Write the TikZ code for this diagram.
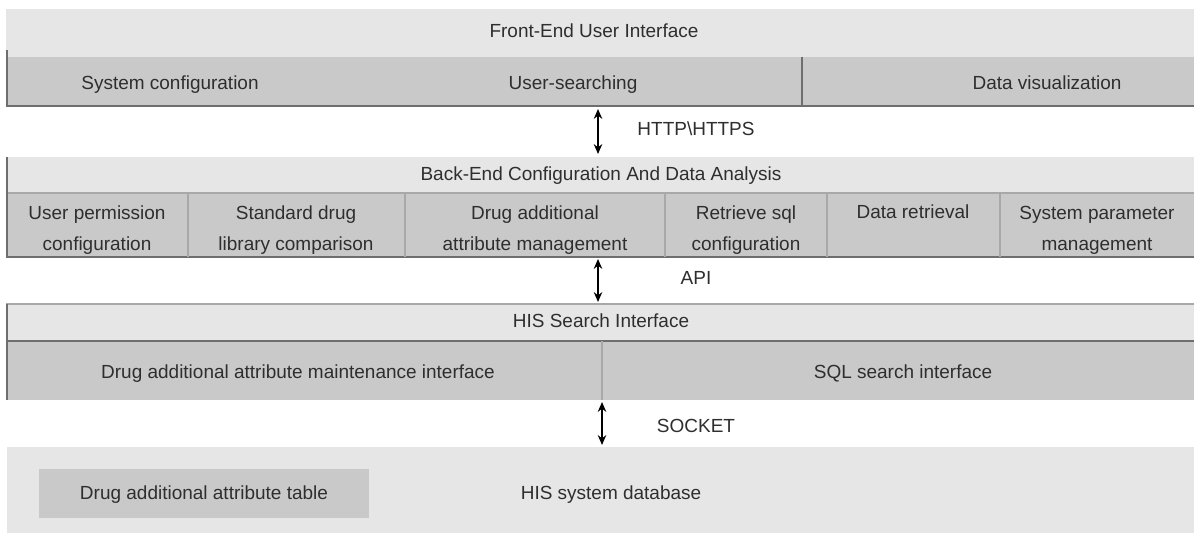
\documentclass[tikz,border=0pt]{standalone}
\usepackage{fontspec}
\setmainfont{Liberation Sans}
\usetikzlibrary{positioning, arrows.meta}

\definecolor{bandlight}{HTML}{E6E6E6}
\definecolor{banddark}{HTML}{C9C9C9}
\definecolor{edgedark}{HTML}{6E6E6E}
\definecolor{edgelight}{HTML}{A8A8A8}
\definecolor{txtgray}{HTML}{2E2E2E}

\tikzset{
  label/.style={text=txtgray, inner sep=0pt, align=center},
  oneline/.style={label, text height=1.8ex, text depth=0.3ex},
  link/.style={{Stealth[length=7pt,width=6pt]}-{Stealth[length=7pt,width=6pt]}, line width=1.3pt},
  rim/.style={draw=edgedark, line width=1pt},
  seam/.style={draw=edgelight, line width=0.8pt},
}

\begin{document}
\begin{tikzpicture}[x=0.025cm, y=-0.025cm, font=\fontsize{13.5}{22}\selectfont]
\useasboundingbox[fill=white] (0,0) rectangle (1194,536);

% front end layer
\fill[bandlight] (6,9) rectangle (1194,57);
\fill[banddark] (6,57) rectangle (1194,106);
\draw[rim] (7,50) -- (7,106) -- (1194,106);
\draw[rim] (802,57) -- (802,106);
\node[oneline] (feTitle) at (594,32) {Front-End User Interface};
\node[oneline] (sysConf) at (170,84) {System configuration};
\node[oneline] (userSearch) at (573,84) {User-searching};
\node[oneline] (dataViz) at (1047,84) {Data visualization};

% back end layer
\fill[bandlight] (6,157) rectangle (1194,193);
\fill[banddark] (6,193) rectangle (1194,257);
\draw[seam] (6,193) -- (1194,193);
\draw[rim] (7,157) -- (7,257) -- (1194,257);
\foreach \xd in {188,405,665,827,1000}
  \draw[seam] (\xd,193) -- (\xd,257);
\node[oneline] (beTitle) at (601,175) {Back-End Configuration And Data Analysis};
\node[label] (userPerm) at (97,230) {User permission\\configuration};
\node[label] (stdDrug) at (296,230) {Standard drug\\library comparison};
\node[label] (attrMgmt) at (535,230) {Drug additional\\attribute management};
\node[label] (sqlConf) at (746,230) {Retrieve sql\\configuration};
\node[oneline] (dataRet) at (913,213) {Data retrieval};
\node[label] (paramMgmt) at (1097,230) {System parameter\\management};

% HIS search layer
\fill[bandlight] (6,304) rectangle (1194,341);
\fill[banddark] (6,341) rectangle (1194,400);
\draw[seam] (6,304) -- (1194,304);
\draw[rim] (6,341) -- (1194,341);
\draw[rim] (7,304) -- (7,400);
\draw[seam] (602,341) -- (602,400);
\node[oneline] (hisTitle) at (601,322) {HIS Search Interface};
\node[oneline] (attrMaint) at (298,373) {Drug additional attribute maintenance interface};
\node[oneline] (sqlSearch) at (903,373) {SQL search interface};

% database layer
\fill[bandlight] (7,447) rectangle (1194,533);
\fill[banddark] (39,469) rectangle (369,518);
\node[oneline] (attrTable) at (204,494) {Drug additional attribute table};
\node[oneline] (hisDb) at (611,494) {HIS system database};

% protocols between layers
\coordinate (httpTop) at (598,109);
\coordinate (httpBot) at (598,154);
\coordinate (apiTop) at (598,259);
\coordinate (apiBot) at (598,302);
\coordinate (sockTop) at (602,402);
\coordinate (sockBot) at (602,445);
\draw[link] (httpTop) -- (httpBot);
\draw[link] (apiTop) -- (apiBot);
\draw[link] (sockTop) -- (sockBot);
\node[oneline] (http) at (696,130) {HTTP\textbackslash HTTPS};
\node[oneline] (api) at (696,279) {API};
\node[oneline] (socket) at (696,427) {SOCKET};
\end{tikzpicture}
\end{document}
